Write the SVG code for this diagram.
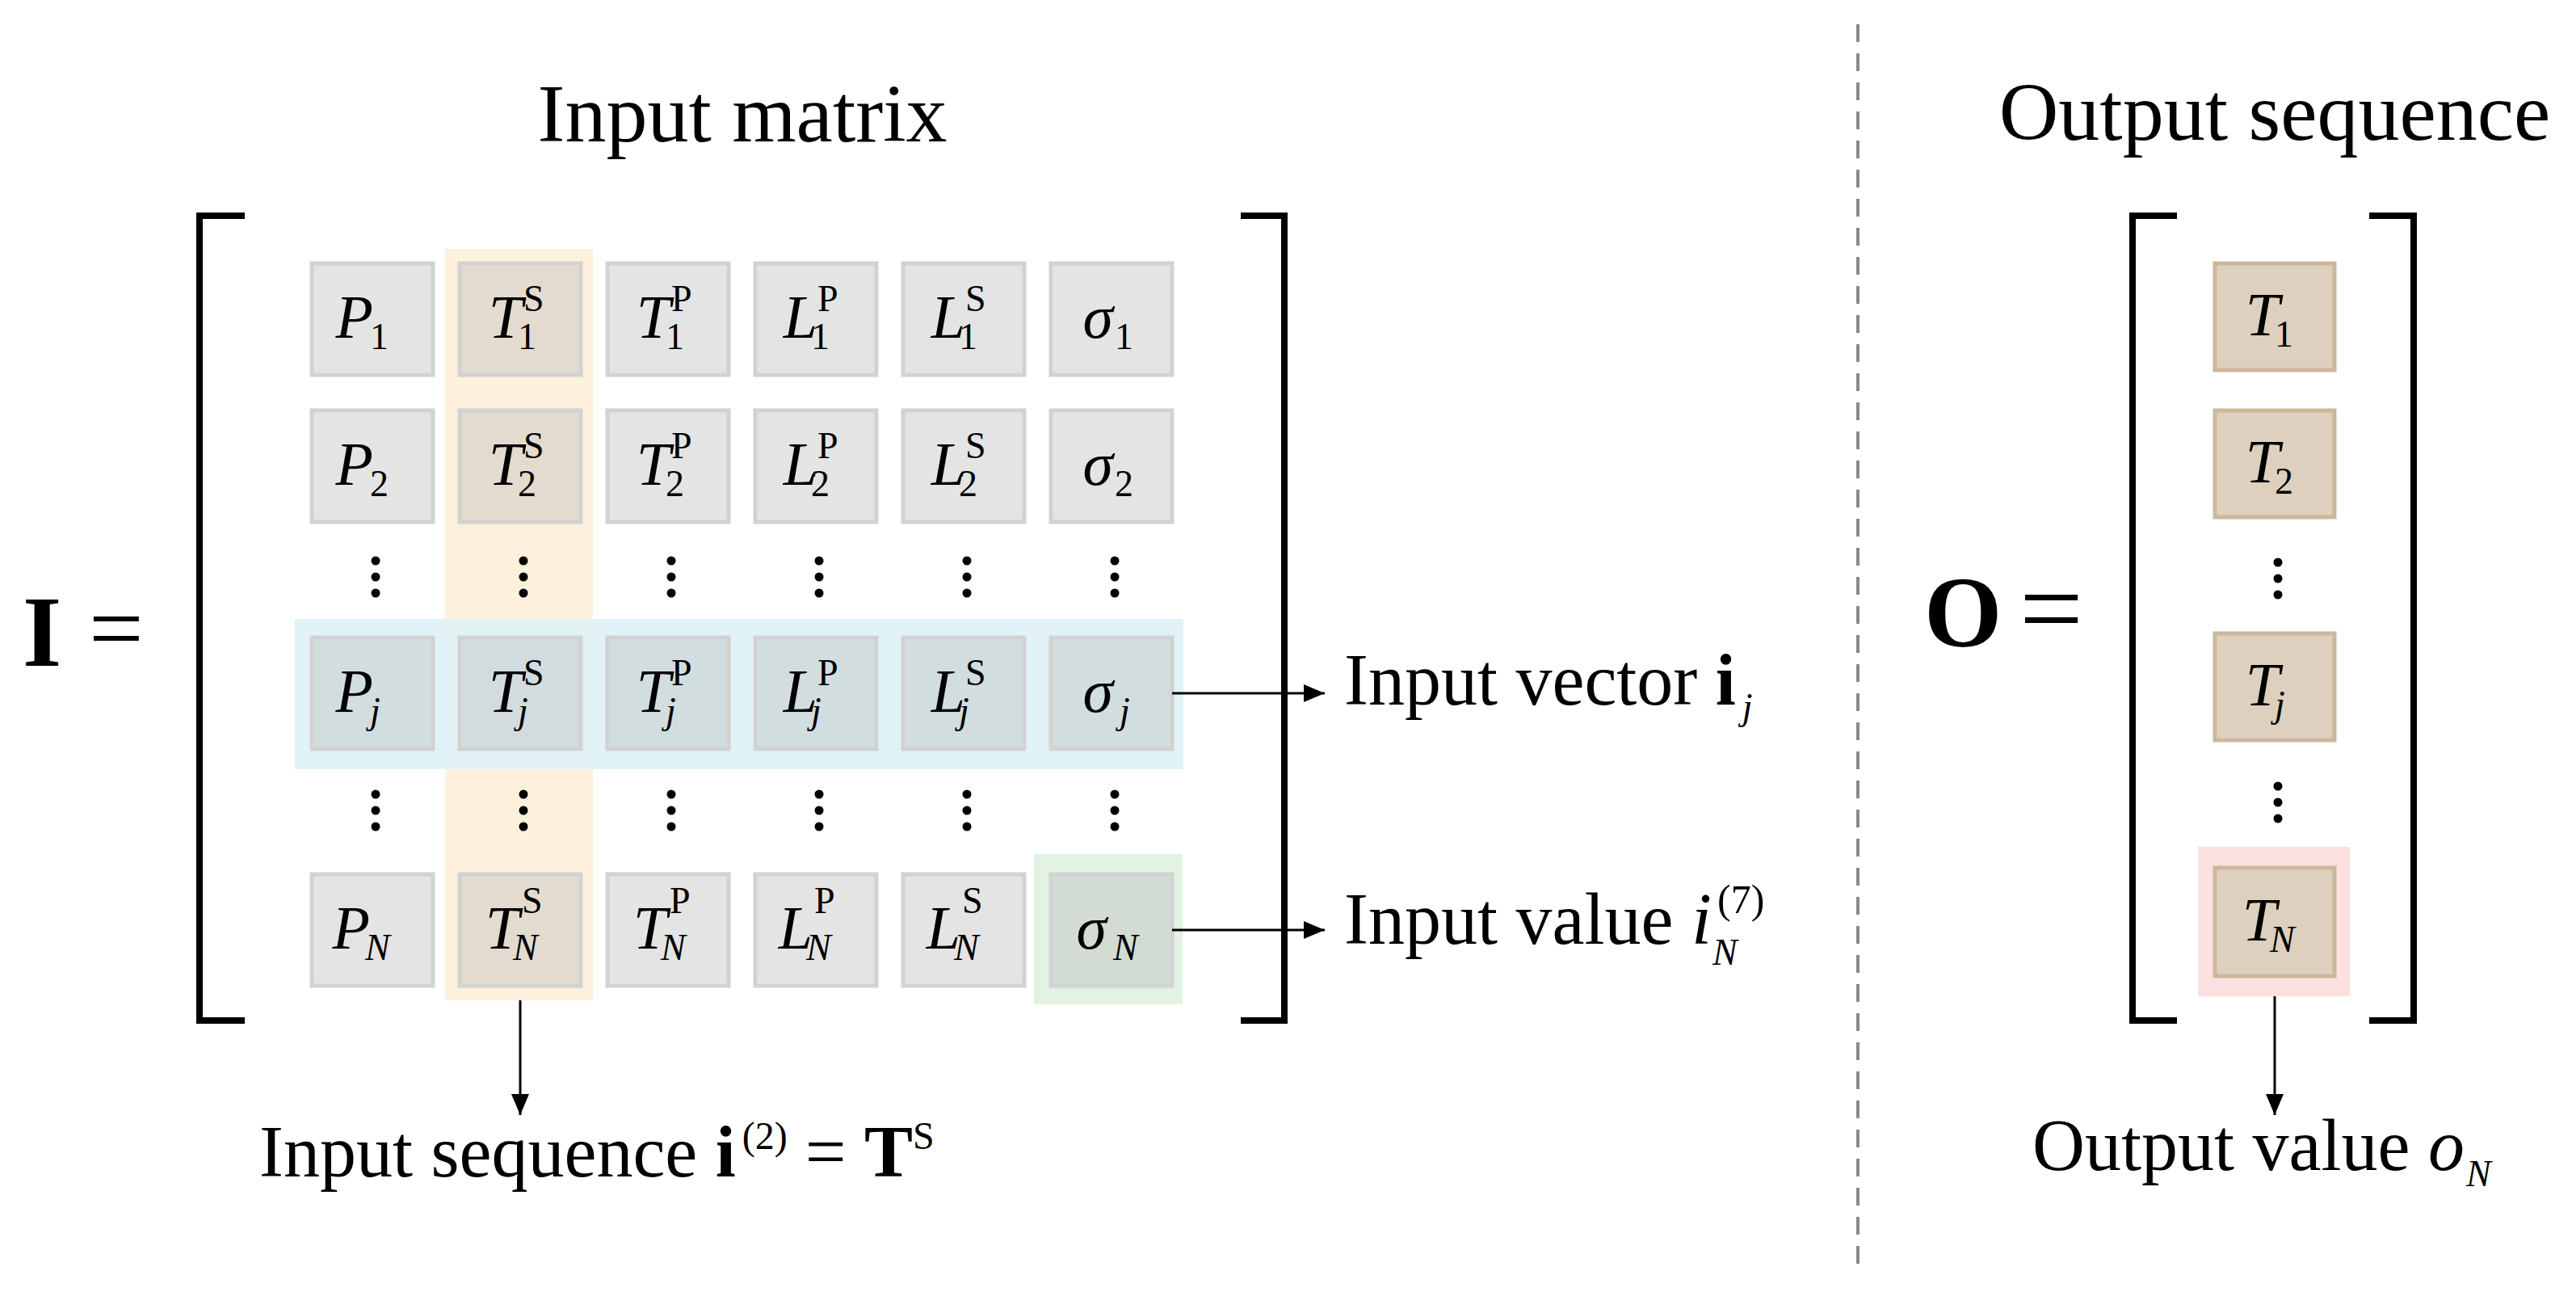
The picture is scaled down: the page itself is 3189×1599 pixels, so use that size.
<svg xmlns="http://www.w3.org/2000/svg" width="3189" height="1599" viewBox="0 0 3189 1599">
<style>
text{font-family:"Liberation Serif","Times New Roman",serif;fill:#000}
.lbl{font-size:90px}
.ttl{font-size:102px}
.m{font-size:76px;font-style:italic}
.s{font-size:46px;font-style:italic}
.su{font-size:46px}
.cell{fill:#bbbbbb;fill-opacity:0.4;stroke:#d2d2d2;stroke-width:5}
.ocell{fill:#ddd0be;stroke:#cdb79a;stroke-width:5}
.br{fill:none;stroke:#000;stroke-width:8}
.ln{stroke:#000;stroke-width:3;fill:none}
</style>
<defs>
<marker id="a" markerWidth="26" markerHeight="22" refX="26" refY="11" orient="auto" markerUnits="userSpaceOnUse"><path d="M0,0 L26,11 L0,22 z" fill="#000"/></marker>
<g id="dots"><circle cx="0" cy="-20" r="5.5"/><circle cx="0" cy="0" r="5.5"/><circle cx="0" cy="20" r="5.5"/></g>
</defs>
<rect width="3189" height="1599" fill="#fff"/>
<line x1="2300" y1="30" x2="2300" y2="1570" stroke="#8a8a8a" stroke-width="4" stroke-dasharray="22,14"/>

<g id="left-title"><text class="ttl" x="919" y="175" text-anchor="middle">Input matrix</text></g>
<g id="I-eq"><text x="28" y="824" font-size="124" font-weight="bold">I</text><text x="110" y="818" font-size="120">=</text></g>
<g id="left-bracket"><path class="br" d="M303,267 H247 V1263 H303"/><path class="br" d="M1536,267 H1590 V1263 H1536"/></g>

<g id="highlights">
<rect x="551" y="308" width="183" height="930" fill="#fdf0dc"/>
<rect x="365" y="766" width="1100" height="186" fill="#dff2f7" fill-opacity="0.9"/>
<rect x="1280" y="1057" width="184" height="186" fill="#e2f2e3"/>
</g>

<g id="cells">
<g id="r1">
<rect class="cell" x="386" y="326" width="150" height="138"/><text class="m" x="462" y="418" text-anchor="end">P</text><text class="su" x="458" y="432">1</text>
<rect class="cell" x="569" y="326" width="150" height="138"/><text class="m" x="647" y="418" text-anchor="end">T</text><text class="su" x="641" y="432">1</text><text class="su" x="648" y="385">S</text>
<rect class="cell" x="752" y="326" width="150" height="138"/><text class="m" x="830" y="418" text-anchor="end">T</text><text class="su" x="824" y="432">1</text><text class="su" x="831" y="385">P</text>
<rect class="cell" x="935" y="326" width="150" height="138"/><text class="m" x="1012" y="418" text-anchor="end">L</text><text class="su" x="1004" y="432">1</text><text class="su" x="1012" y="385">P</text>
<rect class="cell" x="1118" y="326" width="150" height="138"/><text class="m" x="1195" y="418" text-anchor="end">L</text><text class="su" x="1187" y="432">1</text><text class="su" x="1195" y="385">S</text>
<rect class="cell" x="1301" y="326" width="150" height="138"/><text class="m" x="1378" y="418" text-anchor="end">σ</text><text class="su" x="1380" y="432">1</text>
</g>
<g id="r2">
<rect class="cell" x="386" y="508" width="150" height="138"/><text class="m" x="462" y="600" text-anchor="end">P</text><text class="su" x="458" y="614">2</text>
<rect class="cell" x="569" y="508" width="150" height="138"/><text class="m" x="647" y="600" text-anchor="end">T</text><text class="su" x="641" y="614">2</text><text class="su" x="648" y="567">S</text>
<rect class="cell" x="752" y="508" width="150" height="138"/><text class="m" x="830" y="600" text-anchor="end">T</text><text class="su" x="824" y="614">2</text><text class="su" x="831" y="567">P</text>
<rect class="cell" x="935" y="508" width="150" height="138"/><text class="m" x="1012" y="600" text-anchor="end">L</text><text class="su" x="1004" y="614">2</text><text class="su" x="1012" y="567">P</text>
<rect class="cell" x="1118" y="508" width="150" height="138"/><text class="m" x="1195" y="600" text-anchor="end">L</text><text class="su" x="1187" y="614">2</text><text class="su" x="1195" y="567">S</text>
<rect class="cell" x="1301" y="508" width="150" height="138"/><text class="m" x="1378" y="600" text-anchor="end">σ</text><text class="su" x="1380" y="614">2</text>
</g>
<g id="rj">
<rect class="cell" x="386" y="789" width="150" height="138"/><text class="m" x="462" y="881" text-anchor="end">P</text><text class="s" x="458" y="895">j</text>
<rect class="cell" x="569" y="789" width="150" height="138"/><text class="m" x="647" y="881" text-anchor="end">T</text><text class="s" x="641" y="895">j</text><text class="su" x="648" y="848">S</text>
<rect class="cell" x="752" y="789" width="150" height="138"/><text class="m" x="830" y="881" text-anchor="end">T</text><text class="s" x="824" y="895">j</text><text class="su" x="831" y="848">P</text>
<rect class="cell" x="935" y="789" width="150" height="138"/><text class="m" x="1012" y="881" text-anchor="end">L</text><text class="s" x="1004" y="895">j</text><text class="su" x="1012" y="848">P</text>
<rect class="cell" x="1118" y="789" width="150" height="138"/><text class="m" x="1195" y="881" text-anchor="end">L</text><text class="s" x="1187" y="895">j</text><text class="su" x="1195" y="848">S</text>
<rect class="cell" x="1301" y="789" width="150" height="138"/><text class="m" x="1378" y="881" text-anchor="end">σ</text><text class="s" x="1386" y="895">j</text>
</g>
<g id="rN">
<rect class="cell" x="386" y="1082" width="150" height="138"/><text class="m" x="458" y="1174" text-anchor="end">P</text><text class="s" x="452" y="1188">N</text>
<rect class="cell" x="569" y="1082" width="150" height="138"/><text class="m" x="643" y="1174" text-anchor="end">T</text><text class="s" x="635" y="1188">N</text><text class="su" x="646" y="1130">S</text>
<rect class="cell" x="752" y="1082" width="150" height="138"/><text class="m" x="826" y="1174" text-anchor="end">T</text><text class="s" x="818" y="1188">N</text><text class="su" x="829" y="1130">P</text>
<rect class="cell" x="935" y="1082" width="150" height="138"/><text class="m" x="1006" y="1174" text-anchor="end">L</text><text class="s" x="998" y="1188">N</text><text class="su" x="1008" y="1130">P</text>
<rect class="cell" x="1118" y="1082" width="150" height="138"/><text class="m" x="1189" y="1174" text-anchor="end">L</text><text class="s" x="1181" y="1188">N</text><text class="su" x="1191" y="1130">S</text>
<rect class="cell" x="1301" y="1082" width="150" height="138"/><text class="m" x="1370" y="1174" text-anchor="end">σ</text><text class="s" x="1378" y="1188">N</text>
</g>
<g id="ldots">
<use href="#dots" x="465" y="714"/><use href="#dots" x="648" y="714"/><use href="#dots" x="831" y="714"/><use href="#dots" x="1014" y="714"/><use href="#dots" x="1197" y="714"/><use href="#dots" x="1380" y="714"/>
<use href="#dots" x="465" y="1003"/><use href="#dots" x="648" y="1003"/><use href="#dots" x="831" y="1003"/><use href="#dots" x="1014" y="1003"/><use href="#dots" x="1197" y="1003"/><use href="#dots" x="1380" y="1003"/>
</g>
</g>

<g id="right-title"><text class="ttl" x="2816" y="173" text-anchor="middle">Output sequence</text></g>
<g id="O-eq"><text x="2382" y="800" font-size="124" font-weight="bold">O</text><text x="2500" y="800" font-size="140">=</text></g>
<g id="right-bracket"><path class="br" d="M2695,267 H2640 V1263 H2695"/><path class="br" d="M2933,267 H2988 V1263 H2933"/></g>
<g id="out-cells">
<rect x="2721" y="1048" width="188" height="185" fill="#fbe0e0"/>
<rect class="ocell" x="2742" y="326" width="148" height="132"/><text class="m" x="2822" y="415" text-anchor="end">T</text><text class="su" x="2816" y="429">1</text>
<rect class="ocell" x="2742" y="508" width="148" height="132"/><text class="m" x="2822" y="597" text-anchor="end">T</text><text class="su" x="2816" y="611">2</text>
<rect class="ocell" x="2742" y="784" width="148" height="132"/><text class="m" x="2822" y="873" text-anchor="end">T</text><text class="s" x="2816" y="887">j</text>
<rect class="ocell" x="2742" y="1074" width="148" height="134" fill="#dcc5b5"/><text class="m" x="2818" y="1164" text-anchor="end">T</text><text class="s" x="2810" y="1178">N</text>
<use href="#dots" x="2820" y="716"/><use href="#dots" x="2820" y="993"/>
</g>

<g id="connectors">
<line class="ln" x1="1451" y1="858" x2="1640" y2="858" marker-end="url(#a)"/>
<line class="ln" x1="1451" y1="1151" x2="1640" y2="1151" marker-end="url(#a)"/>
<line class="ln" x1="644" y1="1238" x2="644" y2="1380" marker-end="url(#a)"/>
<line class="ln" x1="2816" y1="1233" x2="2816" y2="1380" marker-end="url(#a)"/>
</g>

<g id="labels">
<text class="lbl" x="1664" y="872">Input vector <tspan font-weight="bold">i</tspan><tspan class="s" font-size="48" dx="8" dy="18">j</tspan></text>
<text class="lbl" x="1664" y="1168">Input value <tspan font-style="italic">i</tspan></text>
<text class="s" font-size="50" x="2120" y="1194">N</text><text font-size="50" x="2126" y="1130">(7)</text>
<text class="lbl" x="321" y="1456">Input sequence <tspan font-weight="bold">i</tspan><tspan font-size="48" dx="8" dy="-34">(2)</tspan><tspan dx="22" dy="34">= </tspan><tspan font-weight="bold">T</tspan><tspan font-size="48" dy="-34">S</tspan></text>
<text class="lbl" x="2516" y="1448">Output value <tspan font-style="italic">o</tspan><tspan class="s" font-size="48" dx="2" dy="20">N</tspan></text>
</g>
</svg>
